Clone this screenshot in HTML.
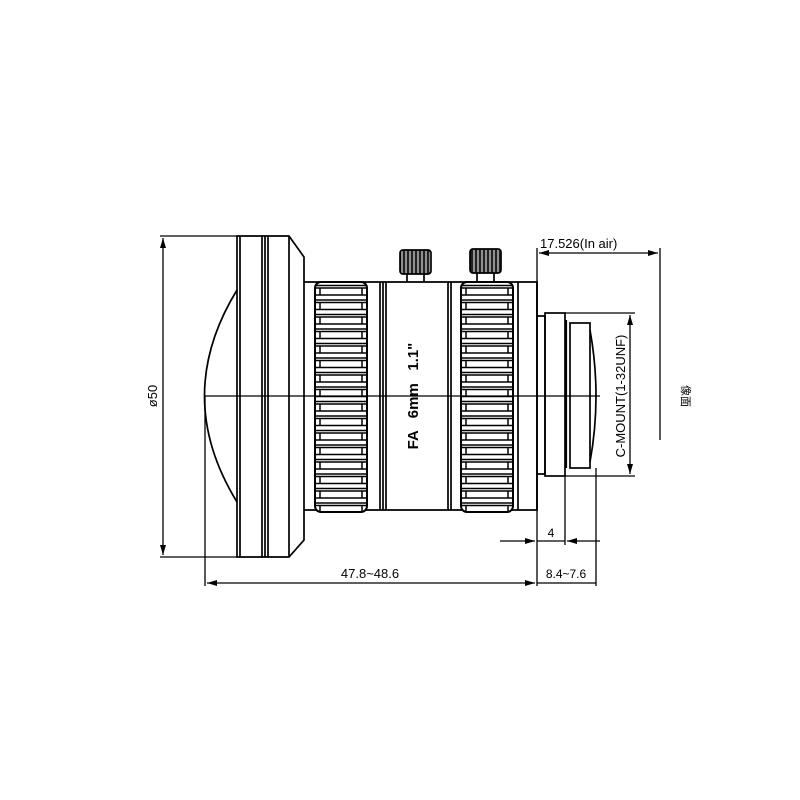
<!DOCTYPE html>
<html><head><meta charset="utf-8"><style>html,body{margin:0;background:#fff}svg{display:block}</style></head>
<body>
<svg width="800" height="800" viewBox="0 0 800 800" xmlns="http://www.w3.org/2000/svg" fill="none" stroke="#000" stroke-width="1.7" font-family="Liberation Sans, sans-serif">
<defs>
<pattern id="kn1" x="315" y="284" width="52" height="14.5" patternUnits="userSpaceOnUse">
<rect x="0" y="0" width="52" height="14.5" fill="#fff" stroke="none"/>
<path d="M0 1.5H52M0 4H52M0 11H52M5 4V11M47 4V11" stroke="#000" stroke-width="1.5"/>
</pattern>
<pattern id="kn2" x="461" y="284" width="52" height="14.5" patternUnits="userSpaceOnUse">
<rect x="0" y="0" width="52" height="14.5" fill="#fff" stroke="none"/>
<path d="M0 1.5H52M0 4H52M0 11H52M5 4V11M47 4V11" stroke="#000" stroke-width="1.5"/>
</pattern>
<pattern id="kb" x="0" y="0" width="4" height="30" patternUnits="userSpaceOnUse">
<rect width="4" height="30" fill="#222" stroke="none"/><path d="M2 0V30" stroke="#fff" stroke-width="1"/>
</pattern>
<marker id="a" viewBox="0 0 10 6" refX="10" refY="3" markerWidth="10" markerHeight="6" orient="auto-start-reverse" markerUnits="userSpaceOnUse"><path d="M0 0L10 3L0 6z" fill="#000" stroke="none"/></marker>
</defs>
<!-- front dims -->
<path d="M160 236H237M160 557H237" stroke-width="1.3"/>
<path d="M163 238V555" stroke-width="1.3" marker-start="url(#a)" marker-end="url(#a)"/>
<text x="157" y="396" font-size="13" fill="#000" stroke="none" transform="rotate(-90 157 396)" text-anchor="middle">ø50</text>
<!-- front cap -->
<path d="M237 236H289L304 257V540L289 557H237Z"/>
<path d="M240 236V557M262 236V557M265 236V557M268 236V557M289 236V557" />
<path d="M237 290Q172 396 237 502"/>
<path d="M205 396V586" stroke-width="1.3"/>
<!-- body -->
<path d="M304 282H537V510H304"/>
<path d="M380 282V510M383 282V510M386 282V510M448 282V510M451 282V510M518 282V510M537 282V510"/>
<rect x="315" y="282" width="52" height="230" rx="6" fill="url(#kn1)" stroke-width="2"/>
<rect x="461" y="282" width="52" height="230" rx="6" fill="url(#kn2)" stroke-width="2"/>
<!-- knobs -->
<path d="M407 272V282M424 272V282M477 272V282M494 272V282"/>
<rect x="400" y="250" width="31" height="24" rx="3" fill="url(#kb)"/>
<rect x="470" y="249" width="31" height="24" rx="3" fill="url(#kb)"/>
<text x="418" y="396" font-size="15" font-weight="bold" fill="#000" stroke="none" transform="rotate(-90 418 396)" text-anchor="middle">FA &#160; 6mm &#160; 1.1"</text>
<!-- rear -->
<path d="M537 316H545V474H537"/>
<rect x="545" y="313" width="20" height="163"/>
<path d="M566 320V468" stroke-width="2.2"/>
<rect x="570" y="323" width="20" height="145"/>
<path d="M590 330Q602 396 590 462"/>
<!-- center line -->
<path d="M205 396H600" stroke-width="1.3"/>
<!-- right dims -->
<path d="M537 248V586M660 248V440" stroke-width="1.3"/>
<path d="M539 253H658" stroke-width="1.3" marker-start="url(#a)" marker-end="url(#a)"/>
<text x="540" y="248" font-size="13" fill="#000" stroke="none">17.526(In air)</text>
<path d="M565 313H635M565 476H635" stroke-width="1.3"/>
<path d="M630 315V474" stroke-width="1.3" marker-start="url(#a)" marker-end="url(#a)"/>
<text x="625" y="396" font-size="13" fill="#000" stroke="none" transform="rotate(-90 625 396)" text-anchor="middle">C-MOUNT(1-32UNF)</text>
<text x="682" y="396" font-size="11" fill="#000" stroke="none" transform="rotate(90 682 396)" text-anchor="middle" font-family="Liberation Sans, Noto Sans CJK SC, sans-serif">像面</text>
<path d="M565 476V545M596 468V586" stroke-width="1.3"/>
<path d="M500 541H535" stroke-width="1.3" marker-end="url(#a)"/>
<path d="M600 541H567" stroke-width="1.3" marker-end="url(#a)"/>
<path d="M537 541H565" stroke-width="1.3"/>
<text x="551" y="537" font-size="12" fill="#000" stroke="none" text-anchor="middle">4</text>
<path d="M207 583H535" stroke-width="1.3" marker-start="url(#a)" marker-end="url(#a)"/>
<path d="M537 583H596" stroke-width="1.3"/>
<text x="370" y="578" font-size="13" fill="#000" stroke="none" text-anchor="middle">47.8~48.6</text>
<text x="566" y="578" font-size="12" fill="#000" stroke="none" text-anchor="middle">8.4~7.6</text>
</svg>
</body></html>
